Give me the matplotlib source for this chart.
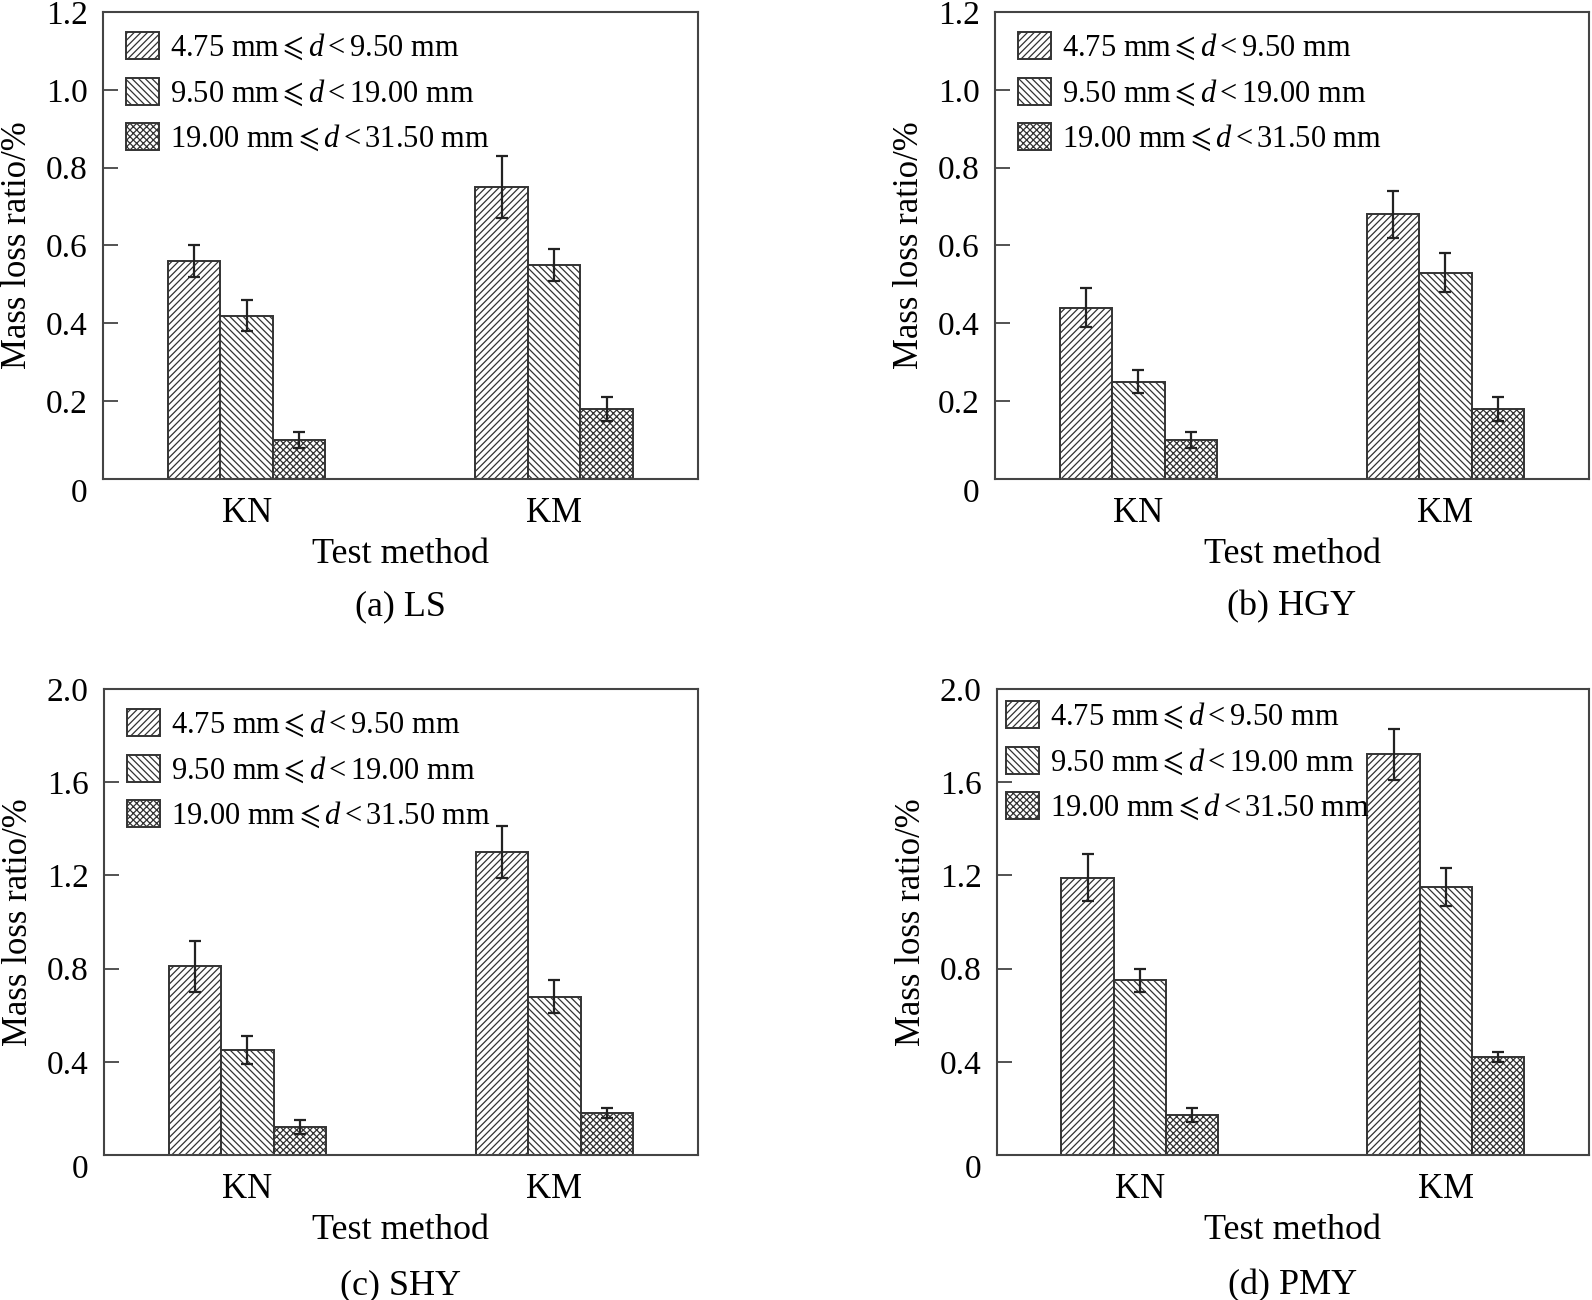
import numpy as np
import matplotlib
matplotlib.use("Agg")
import matplotlib.pyplot as plt

plt.rcParams["font.family"] = ["Liberation Serif", "DejaVu Serif", "DejaVu Sans"]
plt.rcParams["mathtext.fontset"] = "custom"
plt.rcParams["mathtext.rm"] = "Liberation Serif"
plt.rcParams["mathtext.it"] = "Liberation Serif:italic"
plt.rcParams["mathtext.fallback"] = "stix"
plt.rcParams["hatch.linewidth"] = 0.9
plt.rcParams["hatch.color"] = "#333333"

# data
methods = ["KN", "KM"]
sizes = [r"4.75 mm${\leqslant}d{<}$9.50 mm",
         r"9.50 mm${\leqslant}d{<}$19.00 mm",
         r"19.00 mm${\leqslant}d{<}$31.50 mm"]
panels = ["(a) LS", "(b) HGY", "(c) SHY", "(d) PMY"]

ls_mean = [[0.56, 0.75], [0.42, 0.55], [0.10, 0.18]]
ls_err = [[0.04, 0.08], [0.04, 0.04], [0.02, 0.03]]
hgy_mean = [[0.44, 0.68], [0.25, 0.53], [0.10, 0.18]]
hgy_err = [[0.05, 0.06], [0.03, 0.05], [0.02, 0.03]]
shy_mean = [[0.81, 1.30], [0.45, 0.68], [0.12, 0.18]]
shy_err = [[0.11, 0.11], [0.06, 0.07], [0.03, 0.02]]
pmy_mean = [[1.19, 1.72], [0.75, 1.15], [0.17, 0.42]]
pmy_err = [[0.10, 0.11], [0.05, 0.08], [0.03, 0.02]]

means = [ls_mean, hgy_mean, shy_mean, pmy_mean]
errs = [ls_err, hgy_err, shy_err, pmy_err]
yticks = [[0, 0.2, 0.4, 0.6, 0.8, 1.0, 1.2]] * 2 + [[0, 0.4, 0.8, 1.2, 1.6, 2.0]] * 2
ylims = [1.2, 1.2, 2.0, 2.0]

hatches = ["/////", "\\\\\\\\\\", "xxxxx"]

W, H = 1592, 1300
fig = plt.figure(figsize=(W / 100, H / 100), dpi=100)

# axes boxes in pixels: left, right, top, bottom
boxes = [(103, 698, 12, 479), (995, 1589, 12, 479),
         (104, 698, 689, 1155), (997, 1589, 689, 1155)]
# legend offsets (px from axes top-left)
leg_off = [(23, 20), (23, 20), (23, 20), (9, 12)]
cap_off = [136, 136, 139, 139]

bw = 0.171
x = np.array([1, 2])

for k in range(4):
    l, r, t, b = boxes[k]
    hgt = b - t
    ax = fig.add_axes([l / W, 1 - b / H, (r - l) / W, hgt / H])
    for i in range(3):
        ax.bar(x + (i - 1) * bw, means[k][i], width=bw, yerr=errs[k][i],
               color="white", edgecolor="#333333", linewidth=1.4,
               hatch=hatches[i], label=sizes[i],
               error_kw=dict(ecolor="#222222", elinewidth=1.6, capsize=4, capthick=1.6))
    ax.set_xlim(0.533, 2.468)
    ax.set_ylim(0, ylims[k])
    ax.set_xticks(x)
    ax.set_xticklabels(methods)
    ax.set_yticks(yticks[k])
    ax.set_yticklabels(["0"] + ["%.1f" % v for v in yticks[k][1:]])
    ax.tick_params(axis="y", direction="in", length=11, width=1.3, labelsize=24,
                   pad=11, color="#444444")
    ax.tick_params(axis="x", length=0, labelsize=25, pad=13)
    ax.get_yticklabels()[0].set_verticalalignment("top")
    for s in ax.spines.values():
        s.set_linewidth(1.5)
        s.set_color("#444444")
    ax.set_xlabel("Test method", fontsize=26)
    ax.xaxis.label.set_verticalalignment("baseline")
    ax.xaxis.set_label_coords(0.5, -84 / hgt)
    ax.set_ylabel("Mass loss ratio/%", fontsize=25)
    ax.yaxis.set_label_coords(-0.116, 0.5)
    ax.text(0.5, -cap_off[k] / hgt, panels[k], transform=ax.transAxes,
            ha="center", va="baseline", fontsize=26)
    ox, oy = leg_off[k]
    ax.legend(loc="upper left", bbox_to_anchor=(ox / (r - l), 1 - oy / hgt),
              frameon=False, fontsize=22, borderaxespad=0, borderpad=0,
              handlelength=1.08, handleheight=0.98, handletextpad=0.36,
              labelspacing=0.48)

fig.savefig("out.png", dpi=100)
